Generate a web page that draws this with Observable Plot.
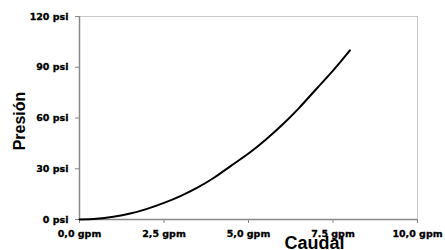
<!DOCTYPE html>
<html><head><meta charset="utf-8">
<script src="https://cdn.jsdelivr.net/npm/d3@7"></script>
<script src="https://cdn.jsdelivr.net/npm/@observablehq/plot@0.6"></script>
<style>
body{margin:0;background:#fff}
svg text{font-weight:bold}
g[aria-label$="tick label"] text{stroke:#000;stroke-width:0.3px}
</style>
</head><body><div id="chart"></div>
<script>
// Data
const caudal  = [0, 0.5, 1, 1.5, 2, 2.5, 3, 3.5, 4, 4.5, 5, 5.5, 6, 6.5, 7, 7.5, 8];
const presion = [0, 0.4, 1.6, 3.5, 6.3, 9.8, 14, 19, 25, 32, 39, 47, 56, 66, 77, 88, 100];
const xTicks = [0, 2.5, 5, 7.5, 10];
const xTickLabels = ["0,0 gpm", "2,5 gpm", "5,0 gpm", "7.5 gpm", "10,0 gpm"];
const yTicks = [0, 30, 60, 90, 120];
const yTickLabels = ["0 psi", "30 psi", "60 psi", "90 psi", "120 psi"];
const xTitle = "Caudal";
const yTitle = "Presión";

const data = caudal.map((q, i) => ({q, p: presion[i]}));
const titleFont = {fontFamily: "Liberation Sans, Arial, sans-serif", fontWeight: "bold", fill: "#000"};

const chart = Plot.plot({
  width: 445, height: 250,
  marginLeft: 79, marginRight: 28, marginTop: 16, marginBottom: 31,
  style: {fontFamily: "DejaVu Sans", fontSize: "9.5px", fontWeight: "bold", color: "#000", background: "#fff", overflow: "visible"},
  x: {domain: [0, 10]},
  y: {domain: [0, 120]},
  marks: [
    Plot.frame({stroke: "#c8c8c8"}),
    Plot.axisX({ticks: xTicks, tickFormat: d => xTickLabels[xTicks.indexOf(d)], tickSize: 4, tickPadding: 7, label: null, stroke: "#888", fill: "#000", fontWeight: "bold"}),
    Plot.axisY({ticks: yTicks, tickFormat: d => yTickLabels[yTicks.indexOf(d)], tickSize: 4, tickPadding: 7, label: null, stroke: "#888", fill: "#000", fontWeight: "bold"}),
    Plot.ruleY([0], {stroke: "#888", strokeWidth: 1.5}),
    Plot.ruleX([0], {stroke: "#888", strokeWidth: 1.5}),
    Plot.line(data, {x: "q", y: "p", stroke: "#000", strokeWidth: 2, curve: "natural"}),
    Plot.text([yTitle], {text: d => d, frameAnchor: "left", dx: -60, dy: 3, rotate: -90, fontSize: 16, lineAnchor: "middle", textAnchor: "middle", ...titleFont}),
    Plot.text([xTitle], {text: d => d, frameAnchor: "bottom", dx: 66, dy: 24, fontSize: 18, lineAnchor: "middle", textAnchor: "middle", ...titleFont})
  ]
});
document.getElementById("chart").appendChild(chart);
</script>
</body></html>
